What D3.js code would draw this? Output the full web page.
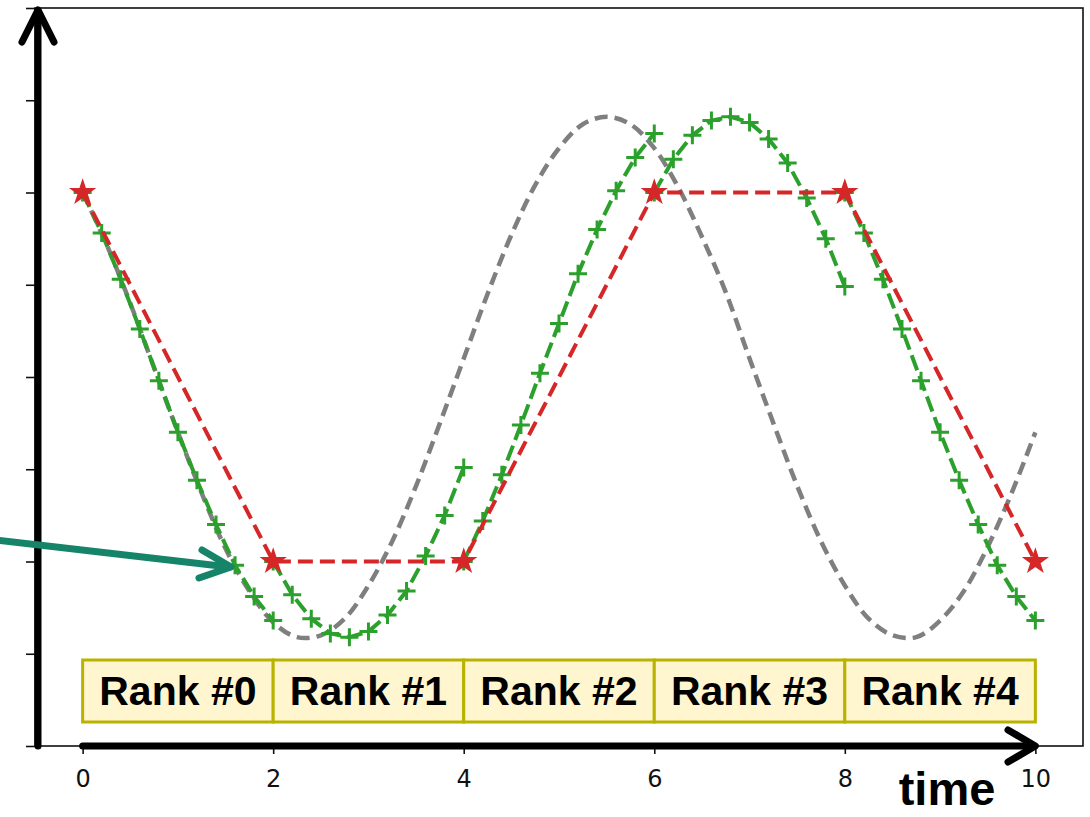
<!DOCTYPE html>
<html>
<head>
<meta charset="utf-8">
<script src="https://cdn.jsdelivr.net/npm/d3@7"></script>
<style>
  html, body { margin: 0; padding: 0; background: #fff; }
  svg { display: block; }
</style>
</head>
<body>
<div id="chart"></div>
<script>
// Parareal-style sketch: exact solution (grey), coarse propagator (red), fine solves per rank (green).
var rankLabels = ["Rank #0", "Rank #1", "Rank #2", "Rank #3", "Rank #4"];
var rankBounds = [0, 2, 4, 6, 8, 10];
var xTicks = [0, 2, 4, 6, 8, 10];
var yTicks = [-2, -1.5, -1, -0.5, 0, 0.5, 1, 1.5, 2];

// grey reference curve, read every 0.25
var exactT = [0, 0.25, 0.5, 0.75, 1, 1.25, 1.5, 1.75, 2, 2.25, 2.5, 2.75, 3, 3.25, 3.5, 3.75, 4,
    4.25, 4.5, 4.75, 5, 5.25, 5.5, 5.75, 6, 6.25, 6.5, 6.75, 7, 7.25, 7.5, 7.75, 8, 8.25, 8.5, 8.75,
    9, 9.25, 9.5, 9.75, 10];
var exactY = [1.00, 0.72, 0.40, 0.05, -0.30, -0.63, -0.93, -1.16, -1.33, -1.41, -1.40, -1.31, -1.13,
    -0.89, -0.59, -0.25, 0.10, 0.45, 0.77, 1.04, 1.24, 1.37, 1.41, 1.37, 1.24, 1.03, 0.76, 0.46, 0.10,
    -0.25, -0.59, -0.89, -1.13, -1.31, -1.40, -1.41, -1.32, -1.16, -0.92, -0.63, -0.30];

// red coarse values at the rank boundaries
var coarseT = [0, 2, 4, 6, 8, 10];
var coarseY = [1, -1, -1, 1, 1, -1];

// green fine solves, one per rank, markers every 0.2 from the rank start
var fineOffsets = [0, 0.2, 0.4, 0.6, 0.8, 1.0, 1.2, 1.4, 1.6, 1.8, 2.0];
var fineY0 = [1.00, 0.78, 0.53, 0.26, -0.02, -0.30, -0.56, -0.80, -1.02, -1.19, -1.32];
var fineY1 = [-1.00, -1.18, -1.31, -1.39, -1.41, -1.38, -1.29, -1.16, -0.97, -0.75, -0.49];
var fineY2 = [-1.00, -0.78, -0.53, -0.26, 0.02, 0.29, 0.56, 0.80, 1.01, 1.19, 1.32];
var fineY3 = [1.00, 1.18, 1.31, 1.39, 1.41, 1.38, 1.29, 1.16, 0.97, 0.75, 0.49];
var fineY4 = [1.00, 0.78, 0.53, 0.26, -0.02, -0.30, -0.56, -0.80, -1.02, -1.19, -1.32];
var fineSeries = [fineY0, fineY1, fineY2, fineY3, fineY4];

(function () {
    var W = 1090, H = 817;
    var m = { top: 8, right: 7, bottom: 71, left: 35 };
    var GREY = "#7f7f7f", RED = "#d62728", GREEN = "#2ca02c", TEAL = "#168468";

    var svg = d3.select("#chart").append("svg").attr("width", W).attr("height", H);

    var x = d3.scaleLinear().domain([-0.5, 10.5]).range([m.left, W - m.right]);
    var y = d3.scaleLinear().domain([-2, 2]).range([H - m.bottom, m.top]);
    var y0 = y(-2);

    // frame
    svg.append("rect").attr("x", x(-0.5)).attr("y", y(2))
        .attr("width", x(10.5) - x(-0.5)).attr("height", y(-2) - y(2))
        .attr("fill", "none").attr("stroke", "#111").attr("stroke-width", 1.6);

    // y ticks (no labels)
    var ya = svg.append("g").attr("transform", "translate(" + x(-0.5) + ",0)")
        .call(d3.axisLeft(y).tickValues(yTicks).tickSize(9).tickFormat(""));
    ya.select(".domain").remove();
    ya.selectAll("line").attr("stroke", "#111").attr("stroke-width", 1.6);

    // x ticks + labels
    var xa = svg.append("g").attr("transform", "translate(0," + y0 + ")")
        .call(d3.axisBottom(x).tickValues(xTicks).tickSize(8).tickFormat(d3.format("d")));
    xa.select(".domain").remove();
    xa.selectAll("line").attr("stroke", "#111").attr("stroke-width", 1.6);
    xa.selectAll("text").attr("y", 41).attr("dy", 0)
        .style("font-family", "'DejaVu Sans', sans-serif").style("font-size", "24px").style("fill", "#111");

    // grey exact curve
    var exactData = exactT.map(function (t, i) { return [t, exactY[i]]; });
    svg.append("path").datum(exactData)
        .attr("d", d3.line().x(function (d) { return x(d[0]); }).y(function (d) { return y(d[1]); })
            .curve(d3.curveCatmullRom))
        .attr("fill", "none").attr("stroke", GREY).attr("stroke-width", 4.5)
        .attr("stroke-dasharray", "13,7");

    // green fine solves
    var line = d3.line().x(function (d) { return x(d[0]); }).y(function (d) { return y(d[1]); });
    fineSeries.forEach(function (vals, k) {
        var pts = vals.map(function (v, i) { return [rankBounds[k] + fineOffsets[i], v]; });
        svg.append("path").datum(pts).attr("d", line)
            .attr("fill", "none").attr("stroke", GREEN).attr("stroke-width", 4)
            .attr("stroke-dasharray", "16,6");
        svg.append("g").selectAll("path").data(pts).enter().append("path")
            .attr("d", "M-9,0H9M0,-9V9")
            .attr("transform", function (d) { return "translate(" + x(d[0]) + "," + y(d[1]) + ")"; })
            .attr("stroke", GREEN).attr("stroke-width", 3).attr("fill", "none");
    });

    // red coarse
    var coarseData = coarseT.map(function (t, i) { return [t, coarseY[i]]; });
    svg.append("path").datum(coarseData).attr("d", line)
        .attr("fill", "none").attr("stroke", RED).attr("stroke-width", 4)
        .attr("stroke-dasharray", "15,7");
    svg.append("g").selectAll("path").data(coarseData).enter().append("path")
        .attr("d", d3.symbol().type(d3.symbolStar).size(160))
        .attr("transform", function (d) { return "translate(" + x(d[0]) + "," + y(d[1]) + ")"; })
        .attr("fill", RED).attr("stroke", RED).attr("stroke-width", 1.5);

    // rank boxes
    var boxTop = 660, boxH = 62;
    var boxes = svg.append("g");
    rankLabels.forEach(function (lab, i) {
        var x1 = x(rankBounds[i]), x2 = x(rankBounds[i + 1]);
        boxes.append("rect").attr("x", x1).attr("y", boxTop).attr("width", x2 - x1).attr("height", boxH)
            .attr("fill", "#fff5cf").attr("stroke", "#b9b300").attr("stroke-width", 3);
        boxes.append("text").attr("x", (x1 + x2) / 2).attr("y", 705).attr("text-anchor", "middle")
            .style("font-family", "'Liberation Sans', Arial, sans-serif").style("font-weight", "bold")
            .style("font-size", "41px").style("fill", "#000").text(lab);
    });

    // thick axis arrows
    function arrow(pts, head, color, w) {
        var g = svg.append("g").attr("fill", "none").attr("stroke", color).attr("stroke-width", w)
            .attr("stroke-linecap", "round").attr("stroke-linejoin", "round");
        g.append("path").attr("d", d3.line()(pts));
        g.append("path").attr("d", d3.line()(head));
    }
    arrow([[38, y0], [38, 11]], [[22, 42], [38, 10], [54, 42]], "#000", 7);
    arrow([[x(0), y0], [x(10) - 2, y0]], [[1008, 730], [x(10), y0], [1008, 762]], "#000", 7);

    // teal pointer arrow
    arrow([[-5, 540], [229, 567]], [[202, 550], [231, 567], [199, 578]], TEAL, 7);

    // axis title
    svg.append("text").attr("x", 947).attr("y", 805).attr("text-anchor", "middle")
        .style("font-family", "'Liberation Sans', Arial, sans-serif").style("font-weight", "bold")
        .style("font-size", "47px").style("fill", "#000").text("time");
})();
</script>
</body>
</html>
